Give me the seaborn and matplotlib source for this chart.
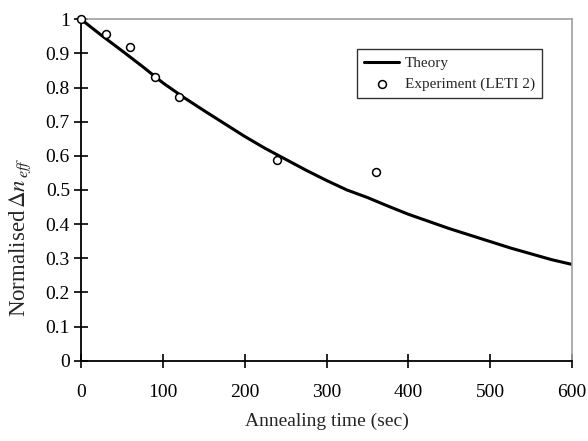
import matplotlib
matplotlib.use("Agg")
import matplotlib.pyplot as plt
import seaborn as sns
import pandas as pd

# Theory curve
theory_t = [0, 25, 50, 75, 100, 125, 150, 175, 200, 225, 250, 275, 300, 325, 350,
            375, 400, 425, 450, 475, 500, 525, 550, 575, 600]
theory_v = [1.0, 0.953, 0.908, 0.862, 0.814, 0.772, 0.733, 0.695, 0.657, 0.622, 0.590,
            0.558, 0.528, 0.500, 0.478, 0.453, 0.429, 0.408, 0.387, 0.368, 0.349,
            0.330, 0.313, 0.296, 0.282]

# Experiment (LETI 2)
exp_t = [0, 30, 60, 90, 120, 240, 360]
exp_v = [1.0, 0.957, 0.918, 0.831, 0.772, 0.588, 0.552]

x_ticks = [0, 100, 200, 300, 400, 500, 600]
y_ticks = [0, 0.1, 0.2, 0.3, 0.4, 0.5, 0.6, 0.7, 0.8, 0.9, 1.0]
y_ticklabels = ["0", "0.1", "0.2", "0.3", "0.4", "0.5", "0.6", "0.7", "0.8", "0.9", "1"]

sns.set_style("ticks")
plt.rcParams["font.family"] = ["Liberation Serif", "DejaVu Serif"]
plt.rcParams["mathtext.fontset"] = "stix"

theory_df = pd.DataFrame({"t": theory_t, "v": theory_v})
exp_df = pd.DataFrame({"t": exp_t, "v": exp_v})

fig = plt.figure(figsize=(5.88, 4.41), dpi=100)
ax = fig.add_axes([81 / 588, 1 - 360.7 / 441, (572 - 81) / 588, (360.7 - 19.3) / 441])

sns.lineplot(data=theory_df, x="t", y="v", ax=ax, color="black", linewidth=2.2,
             label="Theory")
sns.scatterplot(data=exp_df, x="t", y="v", ax=ax, marker="o", s=32,
                facecolor="white", edgecolor="black", linewidth=1.1,
                label="Experiment (LETI 2)", zorder=5, clip_on=False)

ax.set_xlim(0, 600)
ax.set_ylim(0, 1)
ax.set_xticks(x_ticks)
ax.set_xticklabels([str(v) for v in x_ticks])
ax.set_yticks(y_ticks)
ax.set_yticklabels(y_ticklabels)
ax.tick_params(axis="both", direction="inout", length=10, width=1.2,
               labelsize=14, colors="black")
ax.tick_params(axis="x", pad=12)
ax.tick_params(axis="y", pad=3)

for side in ["left", "bottom"]:
    ax.spines[side].set_color("black")
    ax.spines[side].set_linewidth(1.3)
for side in ["top", "right"]:
    ax.spines[side].set_visible(True)
    ax.spines[side].set_color("#a0a0a0")
    ax.spines[side].set_linewidth(1.2)

ax.set_xlabel("Annealing time (sec)", fontsize=14, labelpad=8)
ax.set_ylabel(r"Normalised$\,\Delta n_{\,eff}$", fontsize=16.5)
ax.yaxis.set_label_coords(-0.097, 0.361)

leg = ax.legend(loc="upper left", bbox_to_anchor=(356.7 / 588, 1 - 49.3 / 441),
                bbox_transform=fig.transFigure, frameon=True, fancybox=False,
                fontsize=11, handlelength=2.35, handletextpad=0.33,
                borderpad=0.45, labelspacing=0.48, borderaxespad=0)
leg.get_frame().set_edgecolor("black")
leg.get_frame().set_linewidth(1.0)

fig.savefig("out.png", dpi=100)
